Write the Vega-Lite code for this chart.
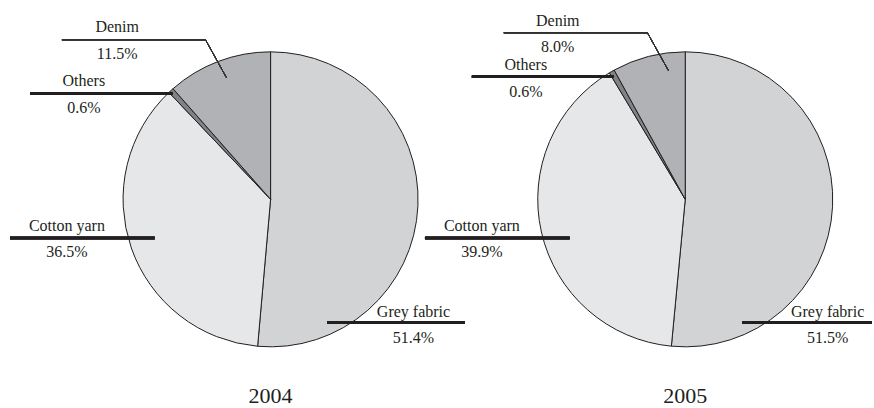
{
  "$schema": "https://vega.github.io/schema/vega-lite/v6.json",
  "width": 874,
  "height": 408,
  "padding": 0,
  "autosize": {"type": "fit", "contains": "padding"},
  "background": "white",
  "config": {
    "view": {"stroke": null},
    "axis": {"disable": true},
    "text": {"font": "Liberation Serif", "fontSize": 16, "fill": "#231f20", "align": "center", "baseline": "middle", "lineHeight": 26.5, "dy": -13.25}
  },
  "data": {
    "values": [
      {"year": "2004", "category": "Grey fabric", "value": 51.4},
      {"year": "2004", "category": "Cotton yarn", "value": 36.5},
      {"year": "2004", "category": "Others", "value": 0.6},
      {"year": "2004", "category": "Denim", "value": 11.5},
      {"year": "2005", "category": "Grey fabric", "value": 51.5},
      {"year": "2005", "category": "Cotton yarn", "value": 39.9},
      {"year": "2005", "category": "Others", "value": 0.6},
      {"year": "2005", "category": "Denim", "value": 8.0}
    ]
  },
  "transform": [
    {"calculate": "indexof(['Grey fabric','Cotton yarn','Others','Denim'], datum.category)", "as": "ord"},
    {"calculate": "[datum.category, format(datum.value, '.1f') + '%']", "as": "lbl"}
  ],
  "layer": [
    {
      "transform": [{"filter": "datum.year == '2004'"}],
      "mark": {"type": "arc", "outerRadius": 147.5, "stroke": "#231f20", "strokeWidth": 1},
      "encoding": {
        "x": {"datum": 0, "type": "quantitative", "scale": {"domain": [-184, 409], "nice": false, "zero": false}},
        "y": {"datum": 0, "type": "quantitative", "scale": {"domain": [-141, 136], "nice": false, "zero": false}},
        "theta": {"field": "value", "type": "quantitative", "stack": true, "scale": {"domain": [0, 100]}},
        "order": {"field": "ord", "type": "quantitative"},
        "color": {"field": "category", "type": "nominal", "legend": null, "scale": {"domain": ["Grey fabric", "Cotton yarn", "Others", "Denim"], "range": ["#d2d3d5", "#e6e7e9", "#808285", "#b1b2b5"]}}
      }
    },
    {
      "transform": [{"filter": "datum.year == '2005'"}],
      "mark": {"type": "arc", "outerRadius": 147.5, "stroke": "#231f20", "strokeWidth": 1},
      "encoding": {
        "x": {"datum": 282, "type": "quantitative"},
        "y": {"datum": 0, "type": "quantitative"},
        "theta": {"field": "value", "type": "quantitative", "stack": true},
        "order": {"field": "ord", "type": "quantitative"},
        "color": {"field": "category", "type": "nominal", "legend": null}
      }
    },
    {"mark": {"type": "rule", "color": "#333333", "strokeWidth": 1}, "encoding": {"x": {"datum": -141.9}, "x2": {"datum": -44.2}, "y": {"datum": 108.8}}},
    {"mark": {"type": "rule", "color": "#333333", "strokeWidth": 1}, "encoding": {"x": {"datum": -44.2}, "x2": {"datum": -30.0}, "y": {"datum": 108.8}, "y2": {"datum": 83.0}}},
    {"mark": {"type": "rule", "color": "#231f20", "strokeWidth": 2.5}, "encoding": {"x": {"datum": -163.6}, "x2": {"datum": -66.6}, "y": {"datum": 72.2}}},
    {"mark": {"type": "rule", "color": "#231f20", "strokeWidth": 2.5}, "encoding": {"x": {"datum": -177.2}, "x2": {"datum": -78.8}, "y": {"datum": -26.3}}},
    {"mark": {"type": "rule", "color": "#231f20", "strokeWidth": 2.5}, "encoding": {"x": {"datum": 38.5}, "x2": {"datum": 132.2}, "y": {"datum": -84.0}}},
    {"mark": {"type": "rule", "color": "#333333", "strokeWidth": 1}, "encoding": {"x": {"datum": 158.6}, "x2": {"datum": 256.3}, "y": {"datum": 113.6}}},
    {"mark": {"type": "rule", "color": "#333333", "strokeWidth": 1}, "encoding": {"x": {"datum": 256.3}, "x2": {"datum": 270.6}, "y": {"datum": 113.6}, "y2": {"datum": 87.8}}},
    {"mark": {"type": "rule", "color": "#231f20", "strokeWidth": 2.5}, "encoding": {"x": {"datum": 136.9}, "x2": {"datum": 233.3}, "y": {"datum": 83.7}}},
    {"mark": {"type": "rule", "color": "#231f20", "strokeWidth": 2.5}, "encoding": {"x": {"datum": 105.0}, "x2": {"datum": 203.4}, "y": {"datum": -26.3}}},
    {"mark": {"type": "rule", "color": "#231f20", "strokeWidth": 2.5}, "encoding": {"x": {"datum": 320.8}, "x2": {"datum": 409}, "y": {"datum": -84.0}}},
    {"transform": [{"filter": "datum.year == '2004' && datum.category == 'Denim'"}], "mark": "text", "encoding": {"x": {"datum": -104.3}, "y": {"datum": 108.3}, "text": {"field": "lbl"}}},
    {"transform": [{"filter": "datum.year == '2004' && datum.category == 'Others'"}], "mark": "text", "encoding": {"x": {"datum": -127.0}, "y": {"datum": 71.5}, "text": {"field": "lbl"}}},
    {"transform": [{"filter": "datum.year == '2004' && datum.category == 'Cotton yarn'"}], "mark": "text", "encoding": {"x": {"datum": -138.5}, "y": {"datum": -27.1}, "text": {"field": "lbl"}}},
    {"transform": [{"filter": "datum.year == '2004' && datum.category == 'Grey fabric'"}], "mark": "text", "encoding": {"x": {"datum": 97.2}, "y": {"datum": -85.7}, "text": {"field": "lbl"}}},
    {"transform": [{"filter": "datum.year == '2005' && datum.category == 'Denim'"}], "mark": "text", "encoding": {"x": {"datum": 195.3}, "y": {"datum": 112.7}, "text": {"field": "lbl"}}},
    {"transform": [{"filter": "datum.year == '2005' && datum.category == 'Others'"}], "mark": "text", "encoding": {"x": {"datum": 173.6}, "y": {"datum": 82.5}, "text": {"field": "lbl"}}},
    {"transform": [{"filter": "datum.year == '2005' && datum.category == 'Cotton yarn'"}], "mark": "text", "encoding": {"x": {"datum": 143.7}, "y": {"datum": -26.9}, "text": {"field": "lbl"}}},
    {"transform": [{"filter": "datum.year == '2005' && datum.category == 'Grey fabric'"}], "mark": "text", "encoding": {"x": {"datum": 378.8}, "y": {"datum": -85.7}, "text": {"field": "lbl"}}},
    {"transform": [{"filter": "datum.year == '2004' && datum.category == 'Grey fabric'"}], "mark": {"type": "text", "fontSize": 22, "dy": 0}, "encoding": {"x": {"datum": 0}, "y": {"datum": -134.5}, "text": {"field": "year"}}},
    {"transform": [{"filter": "datum.year == '2005' && datum.category == 'Grey fabric'"}], "mark": {"type": "text", "fontSize": 22, "dy": 0}, "encoding": {"x": {"datum": 282}, "y": {"datum": -134.5}, "text": {"field": "year"}}}
  ]
}
